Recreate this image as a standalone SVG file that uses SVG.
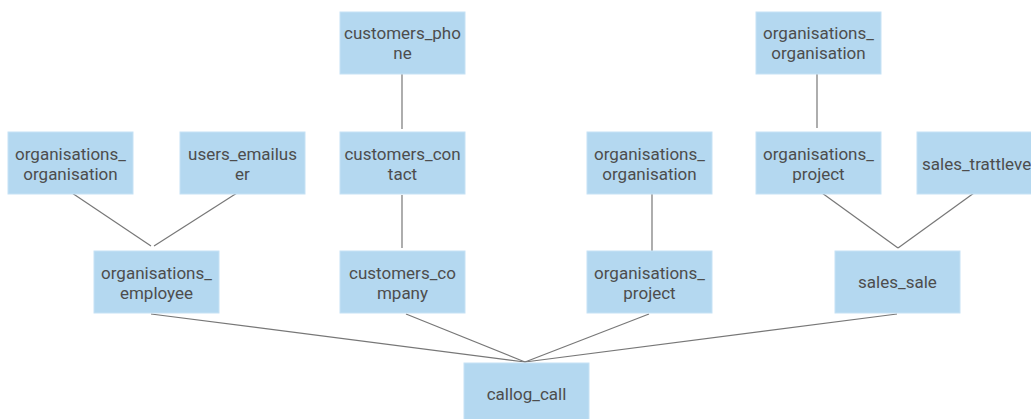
<svg xmlns="http://www.w3.org/2000/svg" width="1031" height="419" viewBox="0 0 1031 419">
<style>
.n rect{fill:#b4d8f0;stroke:#c6e2f5;stroke-width:1}
.n text{font-family:Roboto,"Liberation Sans",sans-serif;font-size:17px;fill:#4d4d4d;text-anchor:middle}
.c line{stroke:#777;stroke-width:1.2;fill:none}
</style>
<rect width="1031" height="419" fill="#fff"/>
<g id="connectors" class="c">
<line x1="402" y1="74" x2="402" y2="129"/>
<line x1="402" y1="195" x2="402" y2="248"/>
<line x1="72" y1="193" x2="151" y2="246"/>
<line x1="237" y1="193" x2="154" y2="246"/>
<line x1="652" y1="194" x2="652" y2="252"/>
<line x1="817" y1="74" x2="817" y2="128"/>
<line x1="822" y1="193" x2="898" y2="248"/>
<line x1="974" y1="193" x2="898" y2="248"/>
<line x1="151" y1="314" x2="525" y2="362"/>
<line x1="406" y1="314" x2="525" y2="362"/>
<line x1="649" y1="314" x2="525" y2="362"/>
<line x1="897" y1="314" x2="525" y2="362"/>
</g>
<g id="customers_phone" class="n"><rect x="340" y="12" width="125" height="62"/><text x="402.5" y="39">customers_pho</text><text x="402.5" y="59">ne</text></g>
<g id="organisations_organisation_top" class="n"><rect x="756" y="12" width="125" height="62"/><text x="818.5" y="39">organisations_</text><text x="818.5" y="59">organisation</text></g>
<g id="organisations_organisation_left" class="n"><rect x="8" y="132" width="125" height="62"/><text x="70.5" y="160">organisations_</text><text x="70.5" y="180">organisation</text></g>
<g id="users_emailuser" class="n"><rect x="180" y="132" width="125" height="62"/><text x="242.5" y="160">users_emailus</text><text x="242.5" y="180">er</text></g>
<g id="customers_contact" class="n"><rect x="340" y="132" width="125" height="62"/><text x="402.5" y="160">customers_con</text><text x="402.5" y="180">tact</text></g>
<g id="organisations_organisation_mid" class="n"><rect x="587" y="132" width="125" height="62"/><text x="649.5" y="160">organisations_</text><text x="649.5" y="180">organisation</text></g>
<g id="organisations_project_right" class="n"><rect x="756" y="132" width="125" height="62"/><text x="818.5" y="160">organisations_</text><text x="818.5" y="180">project</text></g>
<g id="sales_trattlevel" class="n"><rect x="917" y="132" width="125" height="62"/><text x="922" y="170" style="text-anchor:start">sales_trattleve</text></g>
<g id="organisations_employee" class="n"><rect x="94" y="251" width="125" height="62"/><text x="156.5" y="279">organisations_</text><text x="156.5" y="299">employee</text></g>
<g id="customers_company" class="n"><rect x="340" y="251" width="125" height="62"/><text x="402.5" y="279">customers_co</text><text x="402.5" y="299">mpany</text></g>
<g id="organisations_project_mid" class="n"><rect x="587" y="251" width="125" height="62"/><text x="649.5" y="279">organisations_</text><text x="649.5" y="299">project</text></g>
<g id="sales_sale" class="n"><rect x="835" y="251" width="125" height="62"/><text x="897.5" y="288">sales_sale</text></g>
<g id="callog_call" class="n"><rect x="464" y="363" width="125" height="62"/><text x="526.5" y="400">callog_call</text></g>
</svg>
